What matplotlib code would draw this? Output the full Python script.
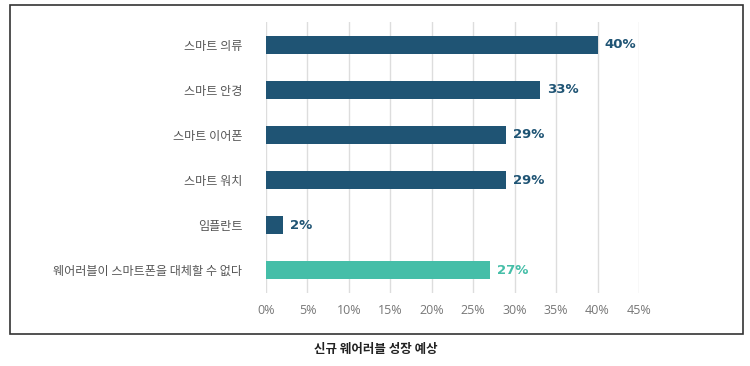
import matplotlib.pyplot as plt
from matplotlib.patches import Rectangle

plt.rcParams['font.family'] = ['Noto Sans CJK KR', 'DejaVu Sans']

categories = ["스마트 의류", "스마트 안경", "스마트 이어폰", "스마트 워치", "임플란트",
              "웨어러블이 스마트폰을 대체할 수 없다"]
values = [40, 33, 29, 29, 2, 27]
value_labels = ["40%", "33%", "29%", "29%", "2%", "27%"]
bar_colors = ["#1f5474", "#1f5474", "#1f5474", "#1f5474", "#1f5474", "#45bea8"]
ticks = [0, 5, 10, 15, 20, 25, 30, 35, 40, 45]
tick_labels = ["0%", "5%", "10%", "15%", "20%", "25%", "30%", "35%", "40%", "45%"]
caption = "신규 웨어러블 성장 예상"

fig = plt.figure(figsize=(7.5, 3.66), dpi=100)
ax = fig.add_axes([0.3547, 0.1995, 0.4973, 0.7404])

pos = list(range(len(categories)))
ax.barh(pos, values, height=0.4, color=bar_colors, zorder=3)
for y, v, lab, c in zip(pos, values, value_labels, bar_colors):
    ax.text(v + 0.85, y, lab, va="center", ha="left", color=c,
            fontsize=9.5, fontweight="bold", family=["DejaVu Sans"])

ax.set_xlim(0, 45)
ax.set_ylim(5.5, -0.5)
ax.set_yticks(pos)
ax.set_yticklabels(categories, fontsize=8.7, color="#555555")
ax.set_xticks(ticks)
ax.set_xticklabels(tick_labels, fontsize=9, color="#777777", family=["Open Sans", "DejaVu Sans"])
ax.tick_params(length=0)
ax.tick_params(axis="y", pad=17)
ax.tick_params(axis="x", pad=8)
ax.grid(axis="x", color="#dddddd", linewidth=1, zorder=0)
for s in ax.spines.values():
    s.set_visible(False)

fig.patches.append(Rectangle((10 / 750, 32 / 366), 733 / 750, 329 / 366,
                             transform=fig.transFigure, fill=False,
                             edgecolor="#333333", linewidth=1.2))
fig.text(376 / 750, 1 - 350 / 366, caption, ha="center", va="center",
         fontsize=9, fontweight="bold", color="#222222")

fig.savefig("out.png", dpi=100)
